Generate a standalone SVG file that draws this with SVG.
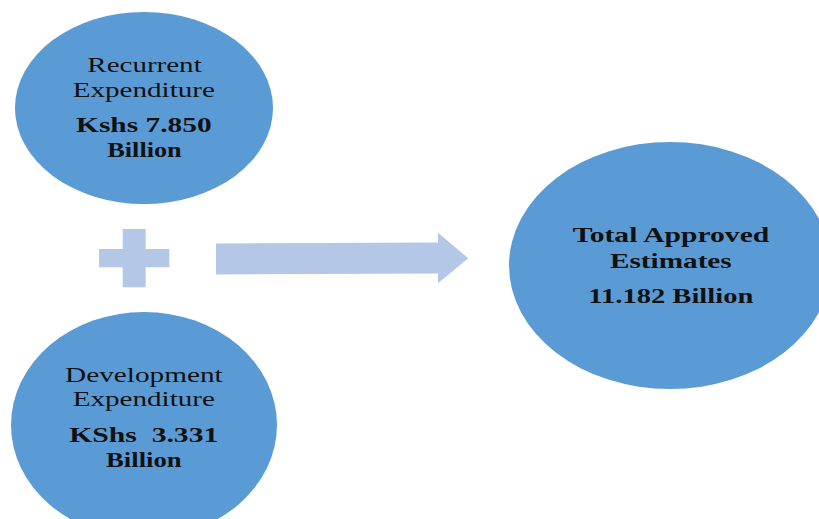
<svg xmlns="http://www.w3.org/2000/svg" width="819" height="519" viewBox="0 0 819 519">
  <style>
    .node { fill: #5B9BD5; }
    .shape { fill: #B4C7E7; }
    .reg { font-family: "Liberation Serif", "Times New Roman", serif; font-size: 21.5px; fill: #111; }
    .bold { font-family: "Liberation Serif", "Times New Roman", serif; font-size: 22px; font-weight: bold; fill: #111; }
  </style>
  <rect x="0" y="0" width="819" height="519" fill="#FFFFFF"/>
  <g id="recurrent">
    <ellipse class="node" cx="144" cy="108" rx="129" ry="96"/>
    <text class="reg" x="87.3" y="71.7" textLength="114.4" lengthAdjust="spacingAndGlyphs">Recurrent</text>
    <text class="reg" x="72.7" y="96.7" textLength="142.3" lengthAdjust="spacingAndGlyphs">Expenditure</text>
    <text class="bold" x="76" y="131.7" textLength="135.7" lengthAdjust="spacingAndGlyphs">Kshs 7.850</text>
    <text class="bold" x="107.3" y="157.3" textLength="74.4" lengthAdjust="spacingAndGlyphs">Billion</text>
  </g>
  <g id="development">
    <ellipse class="node" cx="144" cy="425" rx="133" ry="113"/>
    <text class="reg" x="65" y="381.7" textLength="157.7" lengthAdjust="spacingAndGlyphs">Development</text>
    <text class="reg" x="72.7" y="406" textLength="142.3" lengthAdjust="spacingAndGlyphs">Expenditure</text>
    <text class="bold" x="69.3" y="441.7" textLength="149" lengthAdjust="spacingAndGlyphs" xml:space="preserve">KShs  3.331</text>
    <text class="bold" x="106" y="466.7" textLength="75.7" lengthAdjust="spacingAndGlyphs">Billion</text>
  </g>
  <g id="total">
    <ellipse class="node" cx="670" cy="265.5" rx="161" ry="123.5"/>
    <text class="bold" x="572.7" y="241.7" textLength="196.6" lengthAdjust="spacingAndGlyphs">Total Approved</text>
    <text class="bold" x="610" y="268.3" textLength="121.7" lengthAdjust="spacingAndGlyphs">Estimates</text>
    <text class="bold" x="588.3" y="303.3" textLength="165" lengthAdjust="spacingAndGlyphs">11.182 Billion</text>
  </g>
  <g id="plus">
    <polygon class="shape" points="122.7,229 145.7,229 145.7,249 169.3,249 169.3,267.3 145.7,267.3 145.7,287.3 122.7,287.3 122.7,267.3 99,267.3 99,249 122.7,249"/>
  </g>
  <g id="connectors">
    <polygon class="shape" points="216,243.5 438,242.5 438,232.7 468.3,258.3 438,283.3 438,273.5 216,274.5"/>
  </g>
</svg>
